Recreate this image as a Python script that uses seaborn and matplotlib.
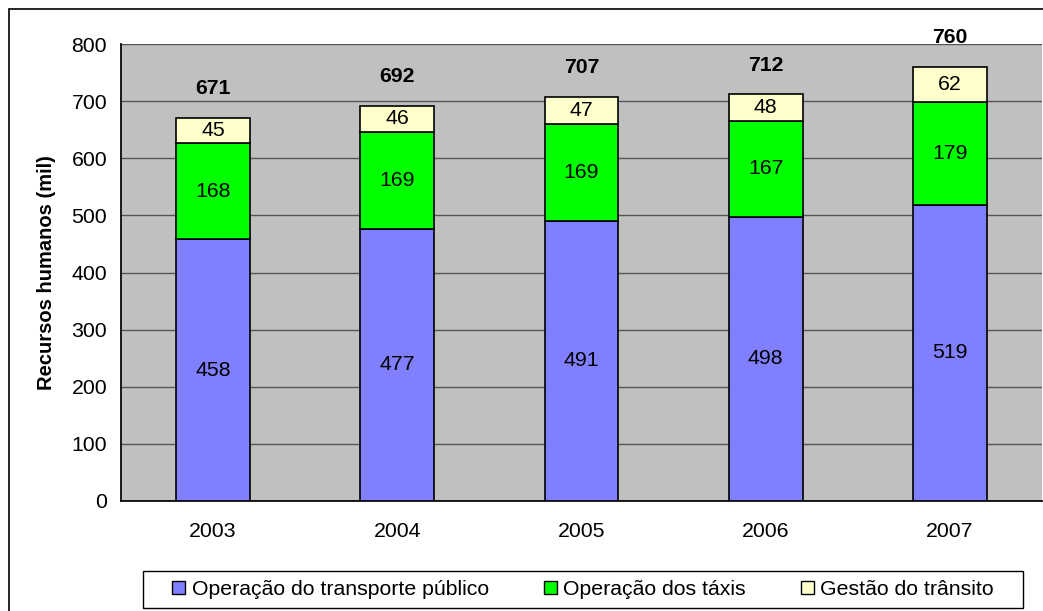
import numpy as np
import pandas as pd
import seaborn as sns
import matplotlib.pyplot as plt
from matplotlib.patches import Rectangle, Patch

years = ["2003", "2004", "2005", "2006", "2007"]
transporte = [458, 477, 491, 498, 519]
taxis = [168, 169, 169, 167, 179]
transito = [45, 46, 47, 48, 62]
totais = [671, 692, 707, 712, 760]

series_names = ["Operação do transporte público", "Operação dos táxis", "Gestão do trânsito"]
series_colors = ["#8080FF", "#00FF00", "#FFFFCC"]

sns.set_theme(style="white")
plt.rcParams["font.family"] = ["Liberation Sans", "DejaVu Sans"]
plt.rcParams.update({"text.color": "black", "axes.labelcolor": "black",
                     "xtick.color": "black", "ytick.color": "black"})
fs = 15.3

W, H = 1043, 611
fig = plt.figure(figsize=(W / 100, H / 100), dpi=100)
ax = fig.add_axes([121 / W, 1 - 501 / H, (1042 - 121) / W, (501 - 44) / H])
ax.set_facecolor("#C0C0C0")

# figure border
fig.patches.append(Rectangle((9 / W, -0.1), 1.2, 1 - 9 / H + 0.1,
                             transform=fig.transFigure, fill=False,
                             edgecolor="black", linewidth=1.2))
# legend box
fig.patches.append(Rectangle((143 / W, 1 - 608 / H), (1023 - 143) / W, 37 / H,
                             transform=fig.transFigure, fill=False,
                             edgecolor="black", linewidth=1))

df = pd.DataFrame({"ano": years, "a": transporte, "b": taxis, "c": transito})
bottoms = [np.zeros(len(years)), np.array(transporte), np.array(transporte) + np.array(taxis)]
for col, color, bot in zip(["a", "b", "c"], series_colors, bottoms):
    sns.barplot(data=df, x="ano", y=col, color=color, bottom=bot, width=0.4,
                edgecolor="black", linewidth=1.2, saturation=1, ax=ax, zorder=3)

for cont in ax.containers:
    ax.bar_label(cont, label_type="center", fontsize=fs, color="black")

for i, t in enumerate(totais):
    ax.annotate(str(t), (i, t), xytext=(0, 21), textcoords="offset points",
                ha="center", va="center", fontsize=fs, fontweight="bold")

ax.set_ylim(0, 800)
ax.set_xlim(-0.5, 4.5)
ax.set_yticks(range(0, 801, 100))
ax.yaxis.grid(True, color="#555555", linewidth=1, zorder=0)
ax.set_axisbelow(True)
ax.set_xticks(np.arange(-0.5, 4.6, 1.0), minor=False)
ax.set_xticklabels([])
ax.set_xticks(range(5), minor=True)
ax.set_xticklabels(years, minor=True, fontsize=fs)
ax.tick_params(axis="x", which="major", length=6, direction="out", color="black", width=1)
ax.tick_params(axis="x", which="minor", length=0, pad=15)
ax.tick_params(axis="y", length=6, direction="out", color="black", width=1, labelsize=fs, pad=4)
ax.set_xlabel("")
ax.set_ylabel("Recursos humanos (mil)", fontsize=14.5, fontweight="bold", labelpad=11)

for side in ["top", "right"]:
    ax.spines[side].set_visible(False)
ax.spines["left"].set_color("black")
ax.spines["bottom"].set_color("black")

handles = [Patch(facecolor=c, edgecolor="black", linewidth=1) for c in series_colors]
leg = fig.legend(handles, series_names, loc="center", ncol=3,
                 bbox_to_anchor=(583 / W, 1 - 589.5 / H), fontsize=fs,
                 frameon=False, handlelength=0.6, handleheight=0.6,
                 handletextpad=0.3, columnspacing=2.6, borderpad=0.2)

fig.savefig("out.png", dpi=100, facecolor="white")
